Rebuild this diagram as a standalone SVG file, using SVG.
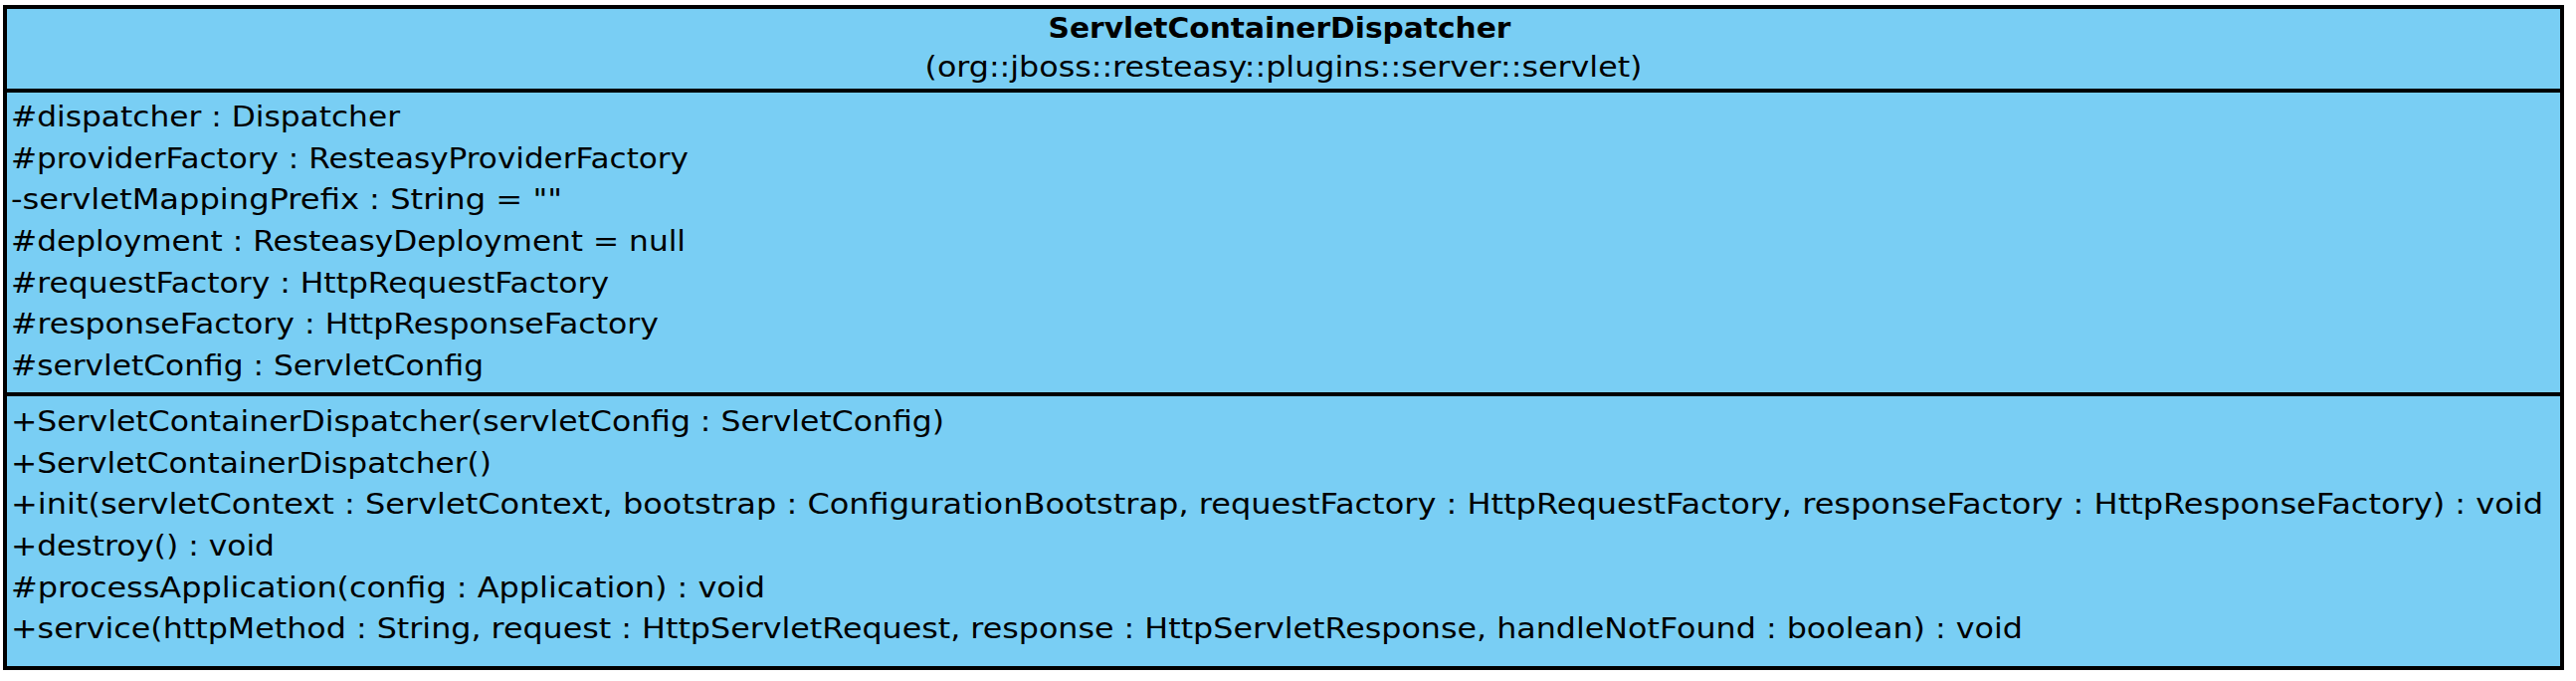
<svg xmlns="http://www.w3.org/2000/svg" width="2589" height="684" viewBox="0 0 2589 684">
<style>
.box{fill:#79CEF4;stroke:#000;stroke-width:4}
.sep{stroke:#000;stroke-width:4}
.t{font-family:"DejaVu Sans","Liberation Sans",sans-serif;font-size:29px;fill:#000}
.title{font-weight:bold;text-anchor:middle}
.pkg{text-anchor:middle}
</style>
<rect width="2589" height="684" fill="#fff"/>
<g id="ServletContainerDispatcher">
<rect class="box" x="5" y="7" width="2570" height="664"/>
<line class="sep" x1="5" y1="91" x2="2575" y2="91"/>
<line class="sep" x1="5" y1="396" x2="2575" y2="396"/>
<text class="t title" x="1286" y="38" textLength="465" lengthAdjust="spacingAndGlyphs">ServletContainerDispatcher</text>
<text class="t pkg" x="1290" y="77" textLength="721" lengthAdjust="spacingAndGlyphs">(org::jboss::resteasy::plugins::server::servlet)</text>
<g class="attrs">
<text class="t" x="11" y="127" textLength="391" lengthAdjust="spacingAndGlyphs">#dispatcher : Dispatcher</text>
<text class="t" x="11" y="169" textLength="681" lengthAdjust="spacingAndGlyphs">#providerFactory : ResteasyProviderFactory</text>
<text class="t" x="11" y="210" textLength="554" lengthAdjust="spacingAndGlyphs">-servletMappingPrefix : String = ""</text>
<text class="t" x="11" y="252" textLength="678" lengthAdjust="spacingAndGlyphs">#deployment : ResteasyDeployment = null</text>
<text class="t" x="11" y="294" textLength="601" lengthAdjust="spacingAndGlyphs">#requestFactory : HttpRequestFactory</text>
<text class="t" x="11" y="335" textLength="651" lengthAdjust="spacingAndGlyphs">#responseFactory : HttpResponseFactory</text>
<text class="t" x="11" y="377" textLength="475" lengthAdjust="spacingAndGlyphs">#servletConfig : ServletConfig</text>
</g>
<g class="ops">
<text class="t" x="11" y="433" textLength="938" lengthAdjust="spacingAndGlyphs">+ServletContainerDispatcher(servletConfig : ServletConfig)</text>
<text class="t" x="11" y="475" textLength="483" lengthAdjust="spacingAndGlyphs">+ServletContainerDispatcher()</text>
<text class="t" x="11" y="516" textLength="2545" lengthAdjust="spacingAndGlyphs">+init(servletContext : ServletContext, bootstrap : ConfigurationBootstrap, requestFactory : HttpRequestFactory, responseFactory : HttpResponseFactory) : void</text>
<text class="t" x="11" y="558" textLength="265" lengthAdjust="spacingAndGlyphs">+destroy() : void</text>
<text class="t" x="11" y="600" textLength="758" lengthAdjust="spacingAndGlyphs">#processApplication(config : Application) : void</text>
<text class="t" x="11" y="641" textLength="2022" lengthAdjust="spacingAndGlyphs">+service(httpMethod : String, request : HttpServletRequest, response : HttpServletResponse, handleNotFound : boolean) : void</text>
</g>
</g>
<g id="connectors"/>
</svg>
